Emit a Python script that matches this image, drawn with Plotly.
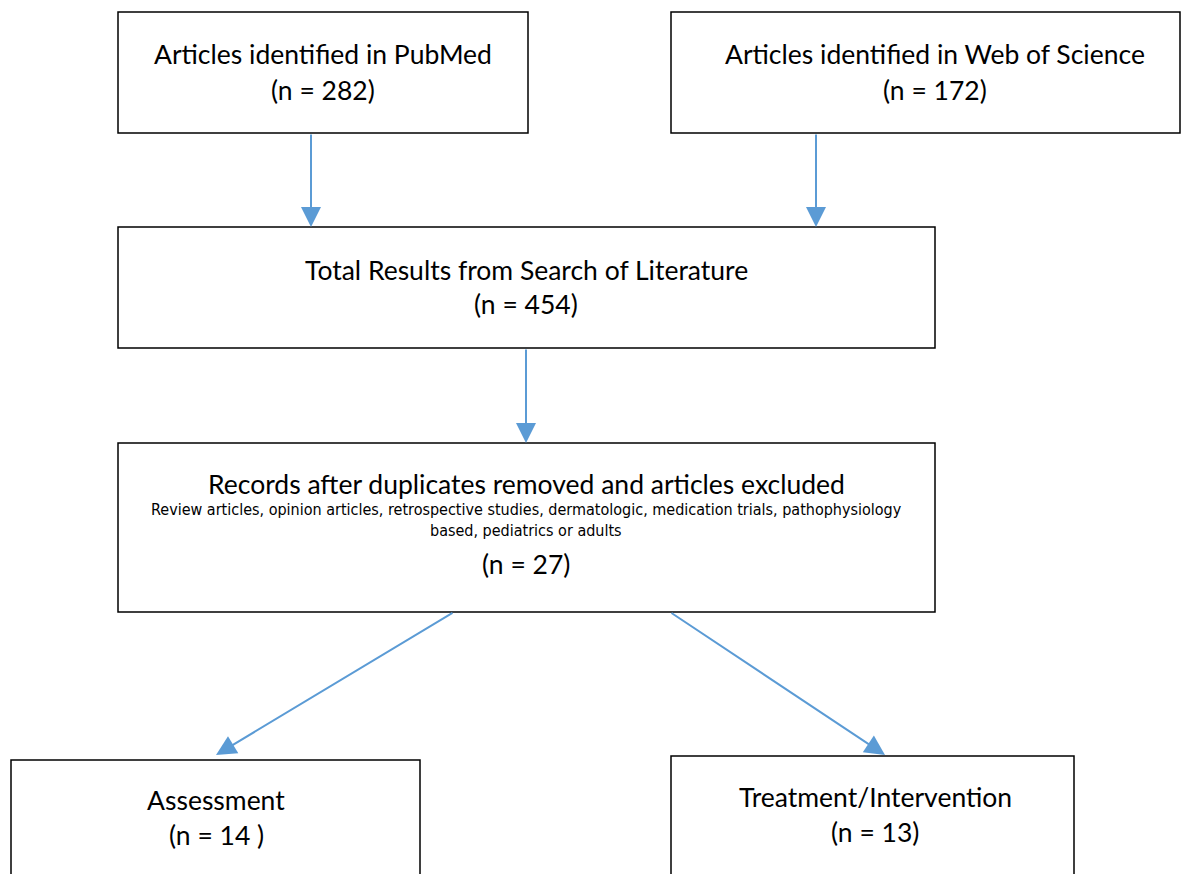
import plotly.graph_objects as go

# ---- data ----
titles = [
    "Articles identified in PubMed",
    "Articles identified in Web of Science",
    "Total Results from Search of Literature",
    "Records after duplicates removed and articles excluded",
    "Assessment",
    "Treatment/Intervention",
]
counts = [282, 172, 454, 27, 14, 13]
count_fmt = ["(n = {})", "(n = {})", "(n = {})", "(n = {})", "(n = {} )", "(n = {})"]
exclusion_note = ["Review articles, opinion articles, retrospective studies, dermatologic, medication trials, pathophysiology",
                  "based, pediatrics or adults"]

# box geometry (x0, y0, x1, y1) in page pixels, y downward
boxes = [
    (118, 12, 528, 133),
    (671, 12, 1180, 133),
    (118, 227, 935, 348),
    (118, 443, 935, 612),
    (11, 760, 420, 900),
    (671, 756, 1074, 900),
]
# title y, count y
text_y = [(54, 90), (54, 90), (270, 304), (484, 564), (800, 835), (797, 832)]
text_x = [323, 935, 526, 526, 216, 875]

# arrows: (x_from, y_from, x_to, y_to)
arrows = [
    (311, 133, 311, 227),
    (816, 133, 816, 227),
    (526, 348, 526, 443),
    (454, 612, 216, 755),
    (670, 612, 885, 755),
]

W, H = 1189, 874
fig = go.Figure()
fig.add_trace(go.Scatter(x=[0, W], y=[0, H], mode="markers", marker=dict(opacity=0), hoverinfo="skip", showlegend=False))

FONT = "Lato"
FS = 26.5
for (x0, y0, x1, y1) in boxes:
    fig.add_shape(type="rect", x0=x0, y0=y0, x1=x1, y1=y1, xref="x", yref="y",
                  line=dict(color="black", width=1.5), fillcolor="white", layer="below")

for i, t in enumerate(titles):
    fig.add_annotation(x=text_x[i], y=text_y[i][0], text=t, showarrow=False,
                       font=dict(family=FONT, size=FS, color="black"), xanchor="center", yanchor="middle")
    fig.add_annotation(x=text_x[i], y=text_y[i][1], text=count_fmt[i].format(counts[i]), showarrow=False,
                       font=dict(family=FONT, size=FS, color="black"), xanchor="center", yanchor="middle")

for j, line in enumerate(exclusion_note):
    fig.add_annotation(x=526, y=509 + 21 * j, text=line, showarrow=False,
                       font=dict(family="Liberation Sans Narrow, DejaVu Sans Condensed", size=16, color="black"),
                       xanchor="center", yanchor="middle")

for (xa, ya, xb, yb) in arrows:
    fig.add_annotation(x=xb, y=yb, ax=xa, ay=ya, xref="x", yref="y", axref="x", ayref="y",
                       text="", showarrow=True, arrowhead=2, arrowsize=2, arrowwidth=2,
                       arrowcolor="#5B9BD5", standoff=0, startstandoff=0)

fig.update_xaxes(range=[0, W], visible=False, fixedrange=True)
fig.update_yaxes(range=[H, 0], visible=False, fixedrange=True)
fig.update_layout(width=W, height=H, margin=dict(l=0, r=0, t=0, b=0),
                  paper_bgcolor="white", plot_bgcolor="white", showlegend=False)
fig.write_html("out.html", config={"displayModeBar": False},
               post_script="document.body.style.margin='0';document.body.style.overflow='hidden';")
